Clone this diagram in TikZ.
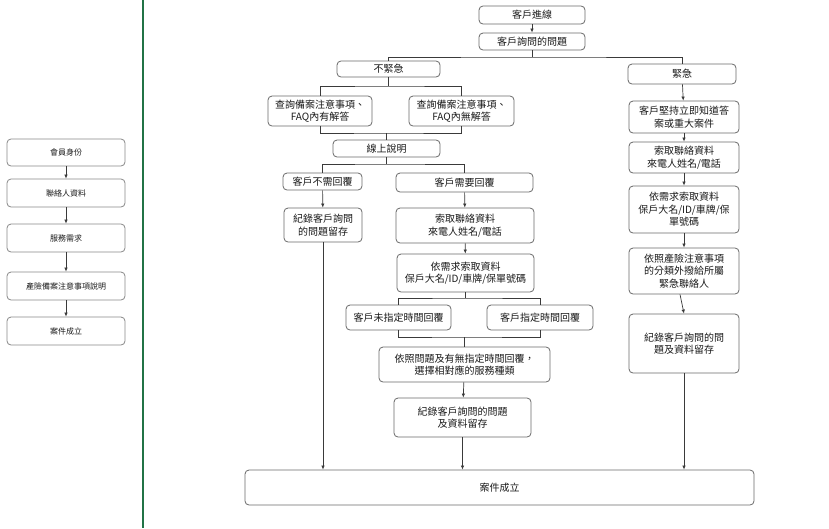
\documentclass[tikz,border=0pt]{standalone}
\usepackage{fontspec}
\newfontfamily\cjk{Noto Sans CJK TC}
\usetikzlibrary{arrows.meta,calc}
\definecolor{boxgray}{HTML}{6A6A6A}
\definecolor{lnc}{HTML}{3A3A3A}
\definecolor{txt}{HTML}{1A1A1A}
\definecolor{exgreen}{HTML}{217346}
\tikzset{
  box/.style={draw=boxgray, rounded corners=4pt, fill=white, align=center,
    font=\cjk\fontsize{10}{12.5}\selectfont, text=txt, inner sep=1pt, line width=0.8pt},
  lbox/.style={box, font=\cjk\fontsize{8}{9.5}\selectfont, draw=boxgray!80},
  ln/.style={draw=lnc, line width=0.7pt},
  arr/.style={ln, -{Latex[length=4pt,width=3.5pt]}},
}
\begin{document}
\begin{tikzpicture}[x=1pt,y=-1pt]
\useasboundingbox (0,0) rectangle (829,528);
\fill[white] (0,0) rectangle (829,528);
% green separator
\draw[exgreen, line width=2pt] (143,0) -- (143,528);

% left column
\node[lbox, minimum width=118, minimum height=27] (L1) at (66,152.5) {會員身份};
\node[lbox, minimum width=118, minimum height=28] (L2) at (66,193) {聯絡人資料};
\node[lbox, minimum width=118, minimum height=28] (L3) at (66,238) {服務需求};
\node[lbox, minimum width=118, minimum height=28] (L4) at (66,286) {產險備案注意事項說明};
\node[lbox, minimum width=118, minimum height=28] (L5) at (66,331) {案件成立};
\draw[arr] (L1) -- (L2);
\draw[arr] (L2) -- (L3);
\draw[arr] (L3) -- (L4);
\draw[arr] (L4) -- (L5);

% main flow
\node[box, minimum width=106, minimum height=18] (in) at (532,15) {客戶進線};
\node[box, minimum width=106, minimum height=17] (ask) at (532,41.5) {客戶詢問的問題};
\node[box, minimum width=103, minimum height=16] (nonurg) at (388.5,69) {不緊急};
\node[box, minimum width=108, minimum height=20] (urg) at (682,74) {緊急};
\node[box, minimum width=104, minimum height=30] (faqyes) at (320,111) {查詢備案注意事項、\\FAQ內有解答};
\node[box, minimum width=105, minimum height=30] (faqno) at (461.5,111) {查詢備案注意事項、\\FAQ內無解答};
\node[box, minimum width=107, minimum height=17] (online) at (386.5,148.5) {線上說明};
\node[box, minimum width=79, minimum height=17] (noreply) at (322.5,181.5) {客戶不需回覆};
\node[box, minimum width=137, minimum height=19] (reply) at (464.5,182.5) {客戶需要回覆};
\node[box, minimum width=78, minimum height=34] (recA) at (323,225) {紀錄客戶詢問\\的問題留存};
\node[box, minimum width=138, minimum height=35] (contactM) at (465,225.5) {索取聯絡資料\\來電人姓名/電話};
\node[box, minimum width=137, minimum height=38] (needM) at (465.5,273) {依需求索取資料\\保戶大名/ID/車牌/保單號碼};
\node[box, minimum width=105, minimum height=25] (unspec) at (398.5,317.5) {客戶未指定時間回覆};
\node[box, minimum width=106, minimum height=25] (spec) at (540,317.5) {客戶指定時間回覆};
\node[box, minimum width=171, minimum height=35] (choose) at (464.5,364.5) {依照問題及有無指定時間回覆，\\選擇相對應的服務種類};
\node[box, minimum width=137, minimum height=39] (recM) at (462.5,417.5) {紀錄客戶詢問的問題\\及資料留存};
\node[box, minimum width=509, minimum height=35] (done) at (499.5,487.5) {案件成立};

% right column
\node[box, minimum width=110, minimum height=32] (insist) at (684,117) {客戶堅持立即知道答\\案或重大案件};
\node[box, minimum width=110, minimum height=31] (contactR) at (684,157.5) {索取聯絡資料\\來電人姓名/電話};
\node[box, minimum width=110, minimum height=47] (needR) at (684,209.5) {依需求索取資料\\保戶大名/ID/車牌/保\\單號碼};
\node[box, minimum width=110, minimum height=46] (callR) at (684,271) {依照產險注意事項\\的分類外撥給所屬\\緊急聯絡人};
\node[box, minimum width=110, minimum height=59] (recR) at (684,343.5) {紀錄客戶詢問的問\\題及資料留存};

% connectors
\draw[arr] (in) -- (ask);
\draw[ln] (ask.south) -- (ask.south |- 0,57) coordinate (b1);
\draw[ln] (nonurg.north) |- (b1) -| (urg.north);
\draw[ln] (nonurg.south) -- (nonurg.south |- 0,86) coordinate (b2);
\draw[ln] (faqyes.north) |- (b2) -| (faqno.north);
\coordinate (b3) at (online.north |- 0,133);
\draw[ln] (faqyes.south) |- (b3) -| (faqno.south);
\draw[ln] (b3) -- (online.north);
\draw[ln] (online.south) -- (online.south |- 0,164) coordinate (b4);
\draw[ln] (noreply.north) |- (b4) -| (reply.north);
\draw[arr] (noreply) -- (recA);
\draw[arr] (reply) -- (contactM);
\draw[arr] (contactM) -- (needM);
\draw[ln] (needM.south) -- (needM.south |- 0,298) coordinate (b5);
\draw[ln] (unspec.north) |- (b5) -| (spec.north);
\coordinate (b6) at (choose.north |- 0,337);
\draw[ln] (unspec.south) |- (b6) -| (spec.south);
\draw[ln] (b6) -- (choose.north);
\draw[arr] (choose) -- (recM);
\draw[arr] (recM) -- (recM.south |- done.north);
\draw[arr] (recA) -- (recA.south |- done.north);

\draw[arr] (urg) -- (insist);
\draw[arr] (insist) -- (contactR);
\draw[arr] (contactR) -- (needR);
\draw[arr] (needR) -- (callR);
\draw[arr] ([xshift=-4pt]callR.south) -- (recR.north);
\draw[arr] (recR) -- (recR.south |- done.north);
\end{tikzpicture}
\end{document}
